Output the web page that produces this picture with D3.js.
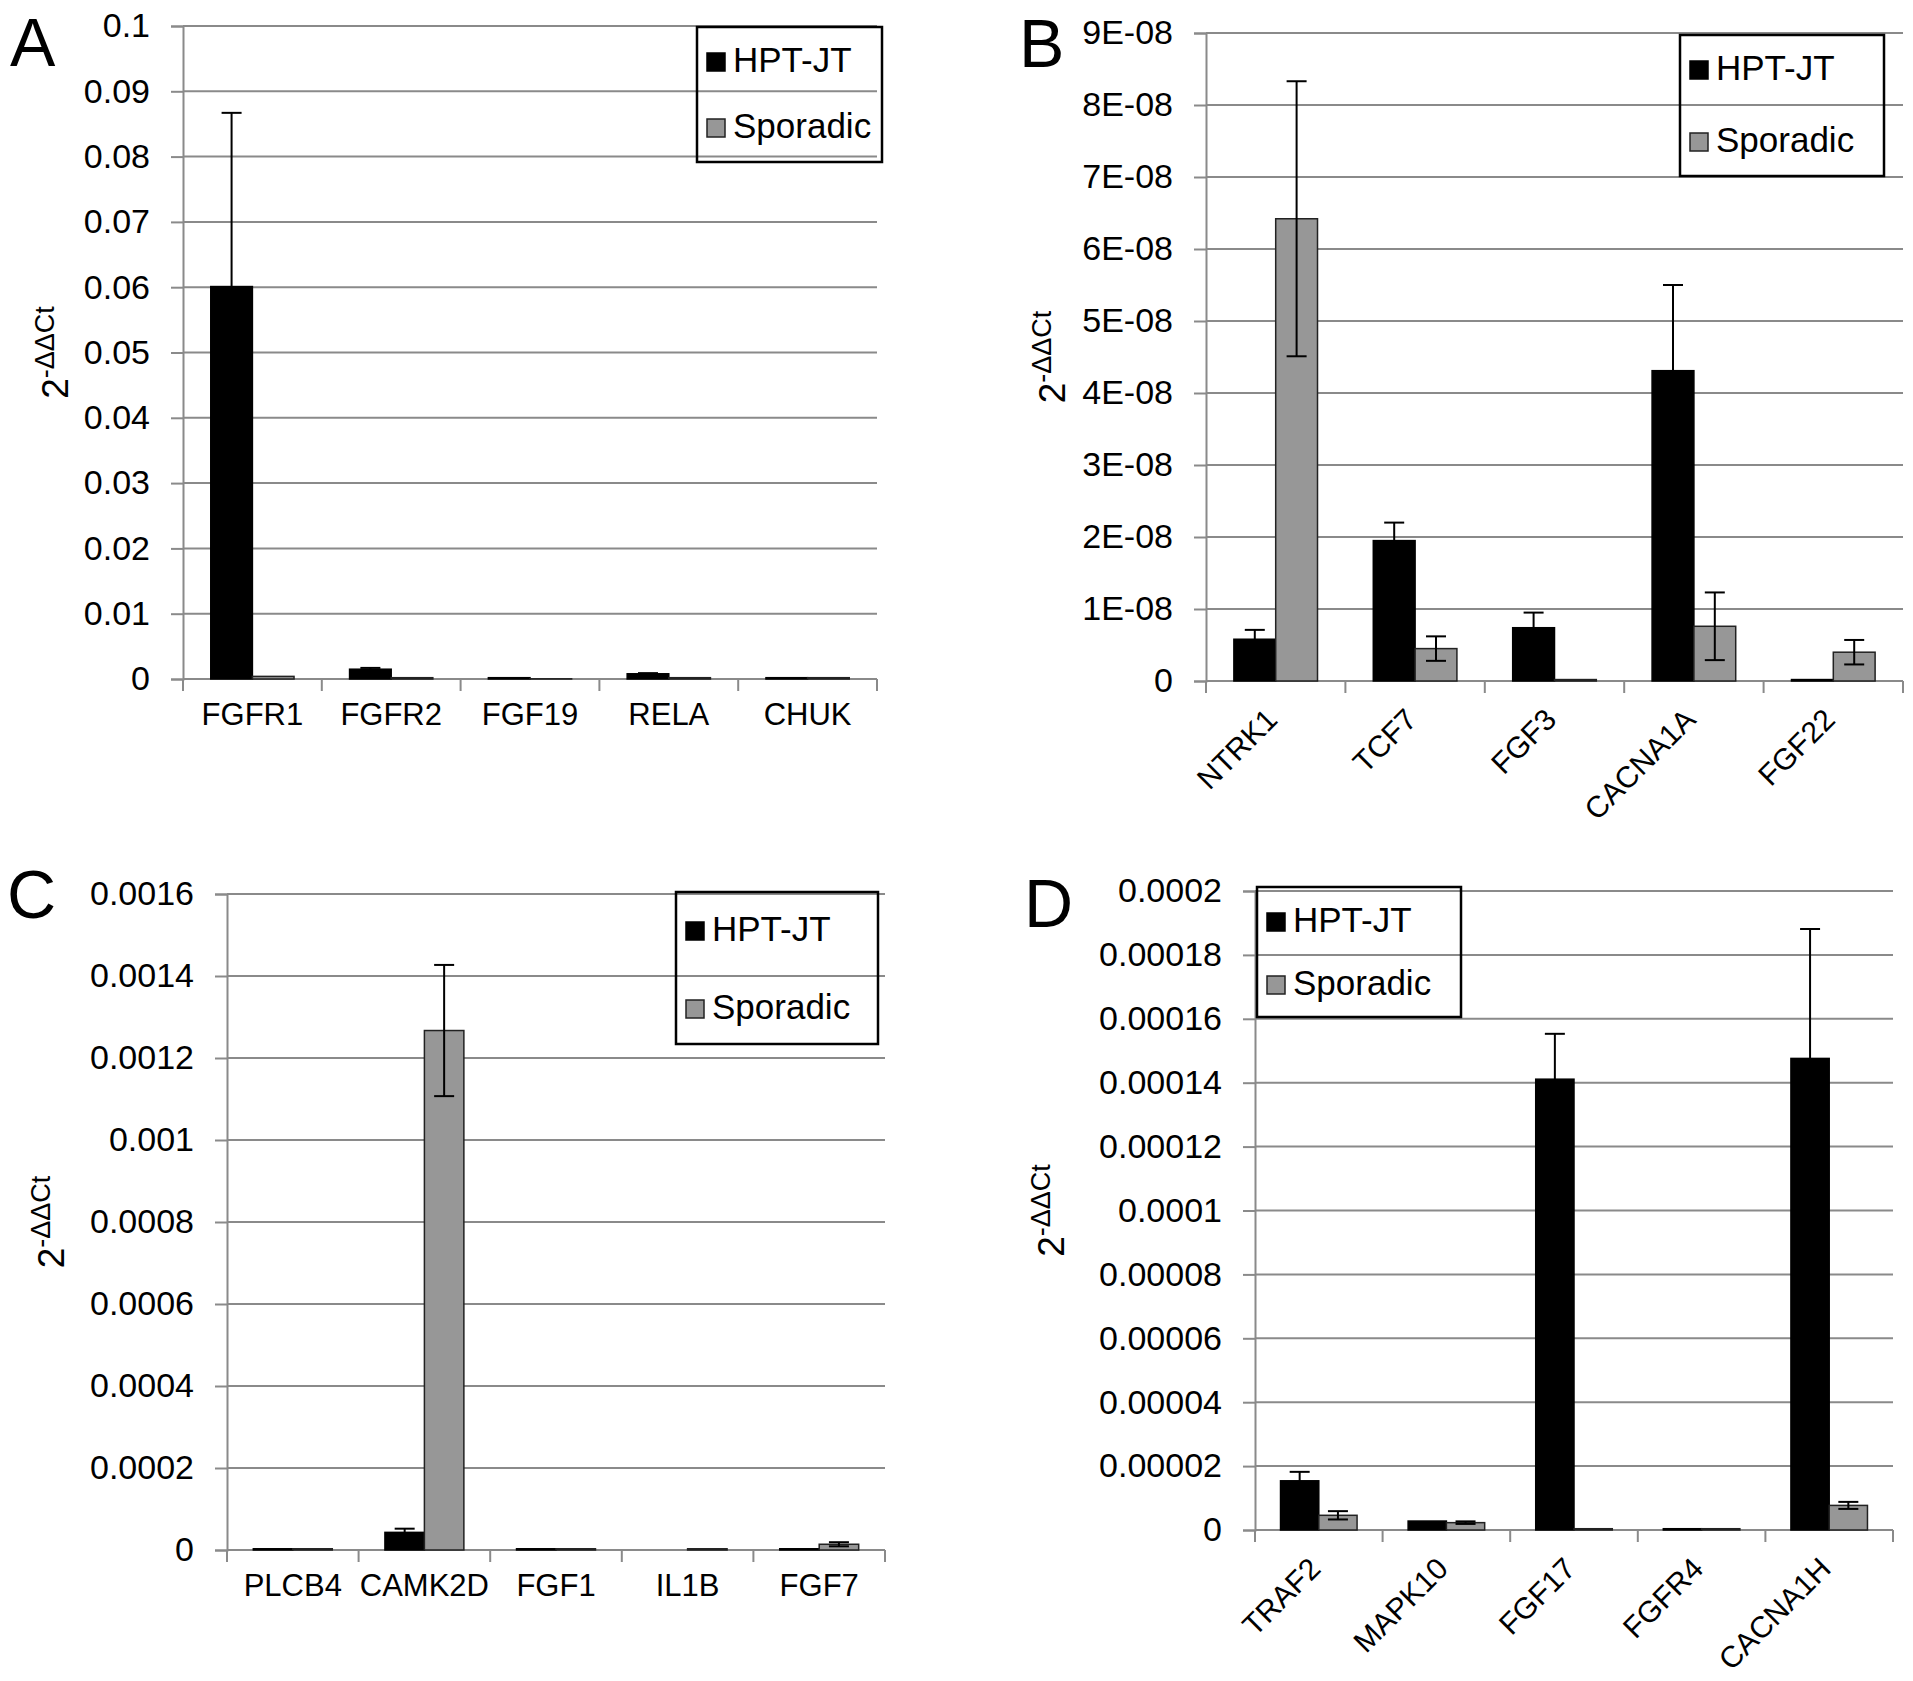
<!DOCTYPE html>
<html>
<head>
<meta charset="utf-8">
<script src="https://cdn.jsdelivr.net/npm/d3@7"></script>
<style>
  body { margin: 0; background: #fff; }
  svg { display: block; font-family: "Liberation Sans", Arial, sans-serif; }
</style>
</head>
<body>
<main></main>
<script>
// ---- data ----
const seriesNames = ['HPT-JT', 'Sporadic'];

// panel A
const genesA = ['FGFR1', 'FGFR2', 'FGF19', 'RELA', 'CHUK'];
const hptA = [0.0601, 0.0015, 0.0002, 0.0008, 0.0002];
const hptErrA = [0.0266, 0.0002, 0, 0.0001, 0];
const sporA = [0.0004, 0.0002, 0.00003, 0.0002, 0.0002];
const sporErrA = [0, 0, 0, 0, 0];
const ticksA = [0, 0.01, 0.02, 0.03, 0.04, 0.05, 0.06, 0.07, 0.08, 0.09, 0.1];
const tickLabelsA = ['0', '0.01', '0.02', '0.03', '0.04', '0.05', '0.06', '0.07', '0.08', '0.09', '0.1'];

// panel B
const genesB = ['NTRK1', 'TCF7', 'FGF3', 'CACNA1A', 'FGF22'];
const hptB = [0.58e-8, 1.95e-8, 0.74e-8, 4.31e-8, 0.02e-8];
const hptErrB = [0.13e-8, 0.25e-8, 0.21e-8, 1.19e-8, 0];
const sporB = [6.42e-8, 0.45e-8, 0.02e-8, 0.76e-8, 0.40e-8];
const sporErrB = [1.91e-8, 0.17e-8, 0, 0.47e-8, 0.17e-8];
const ticksB = [0, 1e-8, 2e-8, 3e-8, 4e-8, 5e-8, 6e-8, 7e-8, 8e-8, 9e-8];
const tickLabelsB = ['0', '1E-08', '2E-08', '3E-08', '4E-08', '5E-08', '6E-08', '7E-08', '8E-08', '9E-08'];

// panel C
const genesC = ['PLCB4', 'CAMK2D', 'FGF1', 'IL1B', 'FGF7'];
const hptC = [0.000003, 0.000043, 0.000003, 0, 0.000003];
const hptErrC = [0, 0.000009, 0, 0, 0];
const sporC = [0.000003, 0.001267, 0.000003, 0.000003, 0.000014];
const sporErrC = [0, 0.00016, 0, 0, 0.000005];
const ticksC = [0, 0.0002, 0.0004, 0.0006, 0.0008, 0.001, 0.0012, 0.0014, 0.0016];
const tickLabelsC = ['0', '0.0002', '0.0004', '0.0006', '0.0008', '0.001', '0.0012', '0.0014', '0.0016'];

// panel D
const genesD = ['TRAF2', 'MAPK10', 'FGF17', 'FGFR4', 'CACNA1H'];
const hptD = [0.0000154, 0.0000028, 0.0001411, 0.0000004, 0.0001476];
const hptErrD = [0.0000028, 0, 0.0000142, 0, 0.0000405];
const sporD = [0.0000046, 0.0000023, 0.0000004, 0.0000004, 0.0000077];
const sporErrD = [0.0000013, 0.0000004, 0, 0, 0.0000011];
const ticksD = [0, 0.00002, 0.00004, 0.00006, 0.00008, 0.0001, 0.00012, 0.00014, 0.00016, 0.00018, 0.0002];
const tickLabelsD = ['0', '0.00002', '0.00004', '0.00006', '0.00008', '0.0001', '0.00012', '0.00014', '0.00016', '0.00018', '0.0002'];

// ---- drawing ----
const width = 1913, height = 1681;
const svg = d3.select('main').append('svg')
    .attr('width', width)
    .attr('height', height);

const gridColor = '#8a8a8a';
const colors = { 'HPT-JT': '#000000', 'Sporadic': '#979797' };

function drawPanel(p) {
    const g = svg.append('g');

    const y = d3.scaleLinear().domain([0, p.ticks[p.ticks.length - 1]]).range([p.bottom, p.top]);
    const x = d3.scaleBand().domain(p.genes).range([p.left, p.right]);
    const xs = d3.scaleBand().domain(seriesNames).range([0, x.bandwidth()])
        .paddingInner(0).paddingOuter(0.667);

    // gridlines
    g.selectAll('.grid')
        .data(p.ticks.slice(1))
        .enter().append('line')
        .attr('x1', p.left).attr('x2', p.right)
        .attr('y1', d => y(d)).attr('y2', d => y(d))
        .attr('stroke', gridColor).attr('stroke-width', 2);

    // y axis
    const yAxis = g.append('g')
        .attr('transform', `translate(${p.left},0)`)
        .call(d3.axisLeft(y).tickValues(p.ticks)
            .tickFormat((d, i) => p.tickLabels[i])
            .tickSize(12).tickPadding(21));
    yAxis.select('.domain').attr('stroke', gridColor).attr('stroke-width', 2);
    yAxis.selectAll('.tick line').attr('stroke', gridColor).attr('stroke-width', 2);
    yAxis.selectAll('.tick text').attr('font-size', 34).attr('fill', '#000')
        .attr('font-family', '"Liberation Sans", Arial, sans-serif');

    // x axis line and boundary ticks
    g.append('line')
        .attr('x1', p.left).attr('x2', p.right)
        .attr('y1', p.bottom).attr('y2', p.bottom)
        .attr('stroke', gridColor).attr('stroke-width', 2);
    const bounds = p.genes.map(d => x(d)).concat([p.right]);
    g.selectAll('.xtick')
        .data(bounds)
        .enter().append('line')
        .attr('x1', d => d).attr('x2', d => d)
        .attr('y1', p.bottom).attr('y2', p.bottom + 12)
        .attr('stroke', gridColor).attr('stroke-width', 2);

    // category labels
    const xAxis = g.append('g')
        .attr('transform', `translate(0,${p.bottom})`)
        .call(d3.axisBottom(x).tickSize(0).tickPadding(24));
    xAxis.select('.domain').remove();
    xAxis.selectAll('.tick text').attr('font-size', 31).attr('fill', '#000')
        .attr('font-family', '"Liberation Sans", Arial, sans-serif');
    if (p.rotate) {
        xAxis.selectAll('.tick text')
            .attr('font-size', 30)
            .attr('text-anchor', 'end')
            .attr('x', 0).attr('y', 0).attr('dy', '0.35em')
            .attr('transform', 'translate(-4,33) rotate(-45)');
    }

    // bars
    const rows = p.genes.map((gene, i) => [
        { gene, s: 'HPT-JT', v: p.hpt[i], e: p.hptErr[i] },
        { gene, s: 'Sporadic', v: p.spor[i], e: p.sporErr[i] }
    ]).flat();

    g.selectAll('.bar')
        .data(rows)
        .enter().append('rect')
        .attr('x', d => x(d.gene) + xs(d.s))
        .attr('width', xs.bandwidth())
        .attr('y', d => y(d.v))
        .attr('height', d => Math.max(0, y(0) - y(d.v)))
        .attr('fill', d => colors[d.s])
        .attr('stroke', d => d.s === 'HPT-JT' ? '#000' : '#222')
        .attr('stroke-width', 1.5);

    // error bars
    const err = g.selectAll('.err')
        .data(rows.filter(d => d.e > 0))
        .enter().append('g')
        .attr('transform', d => `translate(${x(d.gene) + xs(d.s) + xs.bandwidth() / 2},0)`);
    err.append('line')
        .attr('y1', d => y(d.v - d.e)).attr('y2', d => y(d.v + d.e))
        .attr('stroke', '#000').attr('stroke-width', 2);
    err.append('line')
        .attr('x1', -10).attr('x2', 10)
        .attr('y1', d => y(d.v + d.e)).attr('y2', d => y(d.v + d.e))
        .attr('stroke', '#000').attr('stroke-width', 2);
    err.append('line')
        .attr('x1', -10).attr('x2', 10)
        .attr('y1', d => y(d.v - d.e)).attr('y2', d => y(d.v - d.e))
        .attr('stroke', '#000').attr('stroke-width', 2);

    // legend
    const lg = g.append('g').attr('transform', `translate(${p.legend.x},${p.legend.y})`);
    lg.append('rect')
        .attr('width', p.legend.w).attr('height', p.legend.h)
        .attr('fill', 'none').attr('stroke', '#000').attr('stroke-width', 2.5);
    const items = lg.selectAll('.item')
        .data(seriesNames)
        .enter().append('g')
        .attr('transform', (d, i) => `translate(10,${p.legend.rows[i]})`);
    items.append('rect')
        .attr('x', 0).attr('y', -19).attr('width', 18).attr('height', 18)
        .attr('fill', d => colors[d]).attr('stroke', d => d === 'HPT-JT' ? '#000' : '#222')
        .attr('stroke-width', 1.5);
    items.append('text')
        .attr('x', 26).attr('y', 0)
        .attr('font-size', 35)
        .text(d => d);

    // y label 2^-ΔΔCt
    const yl = g.append('text')
        .attr('transform', `translate(${p.ylabelX},${(p.top + p.bottom) / 2}) rotate(-90)`)
        .attr('text-anchor', 'middle');
    yl.append('tspan').attr('font-size', 37).text('2');
    yl.append('tspan').attr('font-size', 27).attr('dy', -14).text('-ΔΔCt');

    // panel letter
    g.append('text')
        .attr('x', p.letterX).attr('y', p.letterY)
        .attr('font-size', 68)
        .text(p.letter);
}

drawPanel({
    letter: 'A', letterX: 10, letterY: 66,
    genes: genesA, hpt: hptA, hptErr: hptErrA, spor: sporA, sporErr: sporErrA,
    ticks: ticksA, tickLabels: tickLabelsA,
    left: 183, right: 877, top: 26, bottom: 679, rotate: false,
    ylabelX: 68,
    legend: { x: 697, y: 27, w: 185, h: 135, rows: [45, 111] }
});

drawPanel({
    letter: 'B', letterX: 1019, letterY: 67,
    genes: genesB, hpt: hptB, hptErr: hptErrB, spor: sporB, sporErr: sporErrB,
    ticks: ticksB, tickLabels: tickLabelsB,
    left: 1206, right: 1903, top: 33, bottom: 681, rotate: true,
    ylabelX: 1065,
    legend: { x: 1680, y: 35, w: 204, h: 141, rows: [45, 117] }
});

drawPanel({
    letter: 'C', letterX: 7, letterY: 918,
    genes: genesC, hpt: hptC, hptErr: hptErrC, spor: sporC, sporErr: sporErrC,
    ticks: ticksC, tickLabels: tickLabelsC,
    left: 227, right: 885, top: 894, bottom: 1550, rotate: false,
    ylabelX: 64,
    legend: { x: 676, y: 892, w: 202, h: 152, rows: [49, 127] }
});

drawPanel({
    letter: 'D', letterX: 1024, letterY: 927,
    genes: genesD, hpt: hptD, hptErr: hptErrD, spor: sporD, sporErr: sporErrD,
    ticks: ticksD, tickLabels: tickLabelsD,
    left: 1255, right: 1893, top: 891, bottom: 1530, rotate: true,
    ylabelX: 1064,
    legend: { x: 1257, y: 887, w: 204, h: 130, rows: [45, 108] }
});
</script>
</body>
</html>
